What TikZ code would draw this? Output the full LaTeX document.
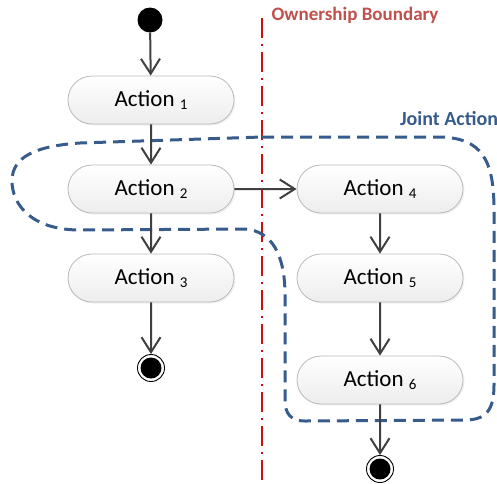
\documentclass[tikz,border=0pt]{standalone}
\usepackage{fontspec}
\setmainfont{Carlito}
\usetikzlibrary{arrows.meta,shapes.misc,shadows}
\definecolor{ownred}{RGB}{192,80,77}
\definecolor{lineRed}{RGB}{204,16,16}
\definecolor{jointblue}{RGB}{55,92,140}
\definecolor{flowgrey}{RGB}{64,64,64}
\newcommand\actsub[1]{{\fontsize{15}{15}\selectfont\raisebox{-3.5pt}{#1}}}
\begin{document}
\begin{tikzpicture}[x=1pt,y=-1pt,
  act/.style={rounded rectangle, draw=gray!55, line width=0.8pt, top color=white, bottom color=gray!14,
    minimum width=166pt, minimum height=48pt, inner sep=0pt, font=\fontsize{23}{27}\selectfont,
    drop shadow={opacity=0.12,shadow xshift=1.5pt,shadow yshift=-1.5pt}},
  flow/.style={draw=flowgrey, line width=2pt, -{Straight Barb[length=15pt,width=19pt]}},
  startdot/.style={circle, fill=black, minimum size=25pt, inner sep=0pt},
  enddot/.style={circle, draw=black, line width=0.9pt, fill=white, minimum size=27pt, inner sep=0pt},
  boundary/.style={draw=lineRed, line width=2pt, dash pattern=on 20pt off 6pt on 2pt off 6pt},
  joint/.style={draw=jointblue, line width=3pt, dash pattern=on 12pt off 7pt},
]
\useasboundingbox (0,0) rectangle (497,483);

% ownership boundary
\draw[boundary] (262,18) -- (262,483);
\node[font=\fontsize{19}{22}\selectfont\bfseries, text=ownred] (ob) at (355,15) {Ownership Boundary};

% joint action region
\draw[joint] (262,137) -- (440,137) .. controls (482,138) and (494,160) .. (494,210)
  -- (494,385) .. controls (494,410) and (486,420) .. (465,420)
  -- (305,421) .. controls (291,421) and (285,414) .. (285,400)
  -- (285,295) .. controls (285,255) and (272,231) .. (245,229)
  -- (80,230) .. controls (32,230) and (12,205) .. (12,181)
  .. controls (12,157) and (35,146) .. (80,143) -- cycle;
\node[font=\fontsize{20}{23}\selectfont\bfseries, text=jointblue] (ja) at (449,119) {Joint Action};

% nodes
\node[startdot] (start) at (150,20) {};
\node[act] (a1) at (151,100) {Action \actsub{1}};
\node[act] (a2) at (151,189) {Action \actsub{2}};
\node[act] (a3) at (151,278) {Action \actsub{3}};
\node[enddot] (e1) at (151,368) {};
\fill (e1.center) circle (10.5);
\node[act] (a4) at (380,189) {Action \actsub{4}};
\node[act] (a5) at (380,278) {Action \actsub{5}};
\node[act] (a6) at (380,380) {Action \actsub{6}};
\node[enddot] (e2) at (380,469) {};
\fill (e2.center) circle (10.5);

% flows
\draw[flow] (start) -- (a1);
\draw[flow] (a1) -- (a2);
\draw[flow] (a2) -- (a3);
\draw[flow] (a3) -- (e1);
\draw[flow] (a2) -- (a4);
\draw[flow] (a4) -- (a5);
\draw[flow] (a5) -- (a6);
\draw[flow] (a6) -- (e2);
\end{tikzpicture}
\end{document}
